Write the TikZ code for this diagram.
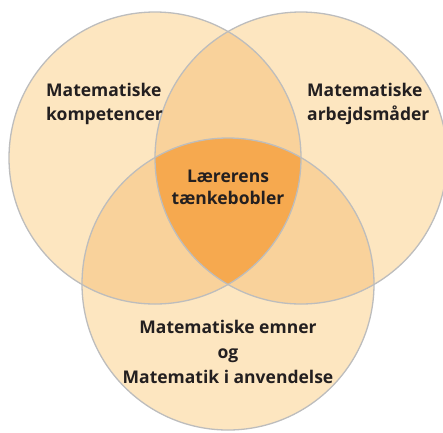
\documentclass[tikz,border=0pt]{standalone}
\usepackage{fontspec}
\setmainfont{Open Sans}
\usetikzlibrary{positioning}
\definecolor{bubblelight}{HTML}{FDE6C0}
\definecolor{bubblemid}{HTML}{F9D29B}
\definecolor{bubbledark}{HTML}{F6A94F}
\definecolor{bubbleline}{HTML}{BDBDBD}
\definecolor{bubbletext}{HTML}{231F20}

\begin{document}
\begin{tikzpicture}[x=1pt,y=-1pt,
  bubble/.style={draw=bubbleline,line width=1.3pt},
  bubblelabel/.style={font=\bfseries\fontsize{17.5}{24}\selectfont,text=bubbletext,inner sep=0pt}]
\useasboundingbox (0,0) rectangle (443,432);
% centres of the three bubbles
\coordinate (komp) at (155,158);
\coordinate (arb) at (301,158);
\coordinate (emn) at (228,284);

% Light bubbles
\fill[bubblelight] (komp) circle[radius=146pt];
\fill[bubblelight] (arb) circle[radius=146pt];
\fill[bubblelight] (emn) circle[radius=146pt];

% Overlap of two bubbles
\begin{scope}
  \clip (komp) circle[radius=146pt];
  \fill[bubblemid] (arb) circle[radius=146pt];
  \fill[bubblemid] (emn) circle[radius=146pt];
\end{scope}
\begin{scope}
  \clip (arb) circle[radius=146pt];
  \fill[bubblemid] (emn) circle[radius=146pt];
\end{scope}

% Overlap of all three
\begin{scope}
  \clip (komp) circle[radius=146pt];
  \clip (arb) circle[radius=146pt];
  \fill[bubbledark] (emn) circle[radius=146pt];
\end{scope}

% Outlines
\draw[bubble] (komp) circle[radius=146pt];
\draw[bubble] (arb) circle[radius=146pt];
\draw[bubble] (emn) circle[radius=146pt];

% Labels
\node[bubblelabel,anchor=north west,align=left] (kompetencer) at (46,83) {Matematiske\\kompetencer};
\node[bubblelabel,anchor=north west,align=left] (arbejde) at (307,83) {Matematiske\\arbejdsmåder};
\node[bubblelabel,anchor=north,align=center,font=\bfseries\fontsize{17.5}{22}\selectfont] (boble) at (228,170) {Lærerens\\tænkebobler};
\node[bubblelabel,anchor=north,align=center,font=\bfseries\fontsize{17.5}{25}\selectfont] (emner) at (228,320) {Matematiske emner\\og\\Matematik i anvendelse};
\end{tikzpicture}
\end{document}
